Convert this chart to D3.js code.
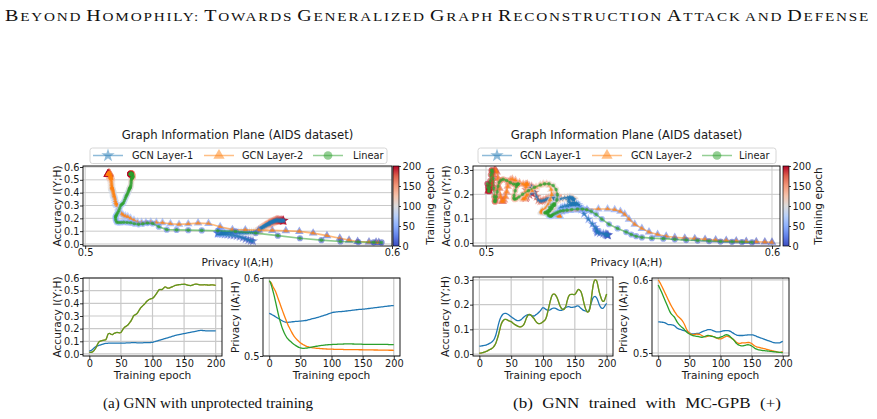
<!DOCTYPE html>
<html><head><meta charset="utf-8">
<script src="https://cdn.jsdelivr.net/npm/d3@7"></script>
<style>
body{margin:0;background:#fff;}
svg{display:block;}
</style></head><body>
<svg id="c" width="877" height="419"></svg>
<script>
// ---------------- DATA ----------------
const epochs = d3.range(0, 201, 2);
const seriesNames = ["GCN Layer-1", "GCN Layer-2", "Linear"];
const seriesColors = ["#1f77b4", "#ff7f0e", "#2ca02c"];
const cbTicks = [0, 50, 100, 150, 200];
const epochTicks = [0, 50, 100, 150, 200];

// (a) unprotected training: accuracy I(Y;H)
const accA_l1 = [
.022,.026,.032,.040,.049,.057,.062,.066,.069,.072,
.075,.078,.081,.083,.084,.085,.085,.086,.086,.086,
.086,.085,.085,.085,.085,.085,.086,.086,.086,.087,
.087,.088,.088,.089,.089,.089,.089,.089,.088,.088,
.088,.088,.088,.089,.089,.089,.089,.090,.090,.091,
.092,.095,.098,.101,.104,.107,.110,.113,.116,.119,
.122,.125,.128,.131,.134,.137,.140,.143,.146,.149,
.151,.153,.155,.157,.159,.161,.163,.165,.167,.169,
.171,.173,.175,.177,.179,.181,.183,.185,.186,.186,
.185,.184,.183,.183,.183,.183,.183,.182,.182,.182,
.182];
const accA_l2 = [
.012,.013,.015,.020,.030,.045,.065,.085,.098,.103,
.106,.108,.110,.112,.135,.160,.163,.157,.153,.158,
.165,.168,.170,.168,.167,.170,.185,.200,.212,.218,
.225,.235,.248,.262,.280,.300,.308,.313,.322,.338,
.355,.368,.378,.388,.398,.410,.420,.428,.433,.437,
.440,.448,.460,.475,.490,.505,.510,.508,.512,.522,
.530,.526,.520,.520,.524,.528,.532,.537,.541,.544,
.546,.547,.548,.549,.550,.551,.549,.546,.543,.541,
.540,.542,.545,.549,.551,.552,.550,.547,.545,.545,
.546,.547,.546,.545,.544,.544,.545,.546,.545,.543,
.542];
const accA_lin = accA_l2; // Layer-2 and Linear curves coincide in the accuracy panel

// (a) privacy I(A;H)
const privA_l1 = [
.5547,.5540,.5532,.5523,.5514,.5504,.5494,.5484,.5474,.5464,
.5455,.5446,.5439,.5434,.5432,.5432,.5433,.5435,.5437,.5439,
.5441,.5443,.5444,.5445,.5446,.5447,.5449,.5451,.5453,.5455,
.5458,.5462,.5466,.5470,.5475,.5479,.5483,.5487,.5491,.5495,
.5500,.5505,.5510,.5515,.5520,.5525,.5530,.5536,.5542,.5548,
.5554,.5558,.5561,.5563,.5565,.5567,.5568,.5569,.5570,.5571,
.5573,.5575,.5577,.5579,.5581,.5583,.5585,.5587,.5589,.5591,
.5593,.5595,.5597,.5598,.5599,.5600,.5601,.5603,.5605,.5607,
.5609,.5611,.5613,.5615,.5617,.5619,.5621,.5623,.5625,.5627,
.5629,.5631,.5633,.5635,.5637,.5639,.5641,.5643,.5645,.5646,
.5647];
const privA_l2 = [
.5957,.5948,.5925,.5888,.5860,.5830,.5788,.5743,.5698,.5654,
.5610,.5566,.5522,.5480,.5440,.5402,.5368,.5336,.5306,.5278,
.5252,.5232,.5214,.5198,.5184,.5171,.5159,.5148,.5139,.5131,
.5124,.5119,.5115,.5111,.5108,.5105,.5103,.5101,.5099,.5098,
.5097,.5095,.5094,.5093,.5092,.5091,.5090,.5089,.5088,.5088,
.5087,.5087,.5086,.5086,.5085,.5085,.5085,.5084,.5084,.5084,
.5083,.5083,.5083,.5083,.5082,.5082,.5082,.5082,.5081,.5081,
.5081,.5081,.5080,.5080,.5080,.5080,.5079,.5079,.5079,.5079,
.5078,.5078,.5078,.5078,.5077,.5077,.5077,.5077,.5076,.5076,
.5076,.5076,.5075,.5075,.5075,.5075,.5074,.5074,.5074,.5074,
.5073];
const privA_lin = [
.5966,.5940,.5890,.5832,.5770,.5700,.5628,.5556,.5490,.5432,
.5380,.5336,.5298,.5266,.5240,.5220,.5203,.5188,.5174,.5160,
.5148,.5137,.5126,.5117,.5109,.5103,.5100,.5099,.5099,.5100,
.5102,.5104,.5107,.5110,.5113,.5116,.5119,.5122,.5125,.5128,
.5131,.5133,.5135,.5137,.5139,.5141,.5143,.5144,.5145,.5146,
.5147,.5148,.5149,.5150,.5150,.5151,.5152,.5152,.5153,.5153,
.5154,.5155,.5155,.5155,.5155,.5155,.5155,.5154,.5154,.5153,
.5153,.5152,.5152,.5151,.5151,.5150,.5150,.5150,.5150,.5150,
.5150,.5150,.5150,.5150,.5149,.5149,.5149,.5149,.5149,.5149,
.5148,.5148,.5148,.5148,.5148,.5148,.5147,.5147,.5147,.5147,
.5147];

// (b) MC-GPB training: accuracy I(Y;H)
const accB_l1 = [
.032,.032,.033,.034,.035,.036,.038,.040,.043,.046,
.050,.055,.064,.078,.098,.120,.138,.150,.158,.163,
.165,.165,.162,.159,.155,.151,.147,.144,.140,.137,
.135,.135,.137,.140,.145,.150,.154,.157,.159,.159,
.158,.156,.154,.154,.157,.161,.165,.170,.176,.183,
.188,.186,.182,.179,.178,.178,.181,.184,.186,.186,
.185,.182,.179,.177,.177,.178,.182,.186,.189,.191,
.192,.191,.189,.189,.190,.191,.193,.195,.194,.189,
.184,.180,.177,.175,.173,.172,.176,.190,.208,.224,
.232,.233,.228,.218,.203,.192,.186,.185,.190,.198,
.205];
const accB_l2 = [
.003,.004,.005,.006,.008,.010,.012,.015,.018,.020,
.023,.028,.035,.045,.060,.077,.098,.118,.130,.137,
.140,.140,.138,.135,.133,.131,.127,.123,.119,.116,
.113,.111,.110,.111,.114,.120,.132,.146,.156,.161,
.160,.155,.149,.143,.135,.128,.124,.123,.124,.127,
.131,.135,.141,.155,.177,.199,.220,.236,.243,.243,
.238,.229,.215,.200,.189,.182,.180,.184,.195,.215,
.232,.240,.242,.242,.241,.242,.248,.257,.262,.258,
.250,.233,.210,.190,.177,.170,.172,.190,.225,.265,
.292,.300,.298,.280,.255,.237,.222,.213,.215,.228,
.243];
const accB_lin = accB_l2;

// (b) privacy I(A;H)
const privB_l1 = [
.5427,.5426,.5424,.5422,.5420,.5417,.5410,.5398,.5390,.5389,
.5388,.5386,.5382,.5372,.5358,.5343,.5333,.5327,.5322,.5316,
.5310,.5306,.5302,.5296,.5285,.5275,.5267,.5262,.5260,.5262,
.5266,.5267,.5267,.5270,.5280,.5290,.5297,.5302,.5308,.5315,
.5320,.5321,.5320,.5315,.5307,.5300,.5294,.5290,.5289,.5290,
.5292,.5297,.5302,.5305,.5306,.5307,.5305,.5302,.5297,.5285,
.5275,.5263,.5253,.5246,.5242,.5240,.5240,.5240,.5240,.5242,
.5244,.5246,.5248,.5249,.5249,.5249,.5247,.5243,.5236,.5228,
.5220,.5213,.5208,.5202,.5196,.5190,.5183,.5177,.5171,.5165,
.5160,.5153,.5146,.5141,.5139,.5138,.5138,.5139,.5143,.5152,
.5160];
const privB_l2 = [
.6000,.5975,.5945,.5910,.5875,.5840,.5803,.5766,.5730,.5695,
.5660,.5630,.5600,.5570,.5545,.5520,.5500,.5485,.5470,.5450,
.5425,.5393,.5353,.5318,.5292,.5275,.5262,.5253,.5250,.5252,
.5257,.5258,.5257,.5255,.5250,.5240,.5230,.5223,.5221,.5226,
.5232,.5236,.5238,.5234,.5226,.5220,.5211,.5203,.5197,.5194,
.5193,.5198,.5207,.5216,.5224,.5230,.5228,.5222,.5212,.5200,
.5190,.5175,.5160,.5145,.5135,.5130,.5132,.5137,.5140,.5140,
.5140,.5142,.5144,.5144,.5138,.5130,.5117,.5103,.5092,.5085,
.5080,.5076,.5072,.5068,.5063,.5059,.5055,.5051,.5047,.5042,
.5037,.5033,.5029,.5025,.5021,.5017,.5013,.5010,.5009,.5013,
.5020];
const privB_lin = [
.5930,.5895,.5860,.5820,.5780,.5740,.5700,.5660,.5620,.5580,
.5545,.5525,.5508,.5490,.5460,.5430,.5405,.5385,.5368,.5352,
.5338,.5320,.5300,.5283,.5270,.5260,.5252,.5245,.5238,.5233,
.5230,.5228,.5226,.5222,.5218,.5216,.5218,.5223,.5230,.5237,
.5240,.5237,.5232,.5228,.5224,.5220,.5214,.5208,.5206,.5210,
.5216,.5223,.5230,.5240,.5248,.5250,.5245,.5235,.5220,.5205,
.5190,.5170,.5148,.5128,.5115,.5106,.5100,.5097,.5098,.5102,
.5106,.5110,.5113,.5112,.5105,.5096,.5085,.5072,.5060,.5052,
.5046,.5042,.5039,.5036,.5034,.5032,.5030,.5029,.5027,.5025,
.5023,.5021,.5019,.5017,.5015,.5014,.5012,.5010,.5009,.5007,
.5005];

// text
const headerText = "Beyond Homophily: Towards Generalized Graph Reconstruction Attack and Defense";
const planeTitle = "Graph Information Plane (AIDS dataset)";
const captions = ["(a) GNN with unprotected training", "(b) GNN trained with MC-GPB (+)"];

// ---------------- DRAWING ----------------
const svg = d3.select("#c");
svg.append("rect").attr("width", 877).attr("height", 419).attr("fill", "#fff");
const FONT = "DejaVu Sans, sans-serif";
const SERIF = "Liberation Serif, DejaVu Serif, serif";
const TXT = "#1a1a1a";
const GRID = "#c9c9c9";
let clipId = 0;

const cwStops = ["rgb(59,76,192)","rgb(98,130,234)","rgb(141,176,254)","rgb(184,208,249)","rgb(221,220,220)","rgb(245,196,173)","rgb(244,154,123)","rgb(222,96,77)","rgb(180,4,38)"];
const coolwarm = d3.scaleLinear().domain(d3.range(9).map(i => i * 25)).range(cwStops).interpolate(d3.interpolateRgb);
const symbols = [d3.symbolStar, d3.symbolTriangle, d3.symbolCircle];

function styleAxis(ax, fs) {
  ax.attr("font-family", FONT).attr("font-size", fs || 9.8);
  ax.select(".domain").remove();
  ax.selectAll(".tick line").attr("stroke", "#000").attr("stroke-width", 0.8);
  ax.selectAll(".tick text").attr("fill", TXT);
}

function frame(g, x0, y0, x1, y1) {
  g.append("rect").attr("x", x0).attr("y", y0).attr("width", x1 - x0).attr("height", y1 - y0)
    .attr("fill", "none").attr("stroke", "#000").attr("stroke-width", 0.9);
}

function makeClip(x0, y0, x1, y1) {
  const id = "clip" + (clipId++);
  svg.append("clipPath").attr("id", id).append("rect").attr("x", x0).attr("y", y0).attr("width", x1 - x0).attr("height", y1 - y0);
  return "url(#" + id + ")";
}

function ylabel(txt, x, y, fs) {
  svg.append("text").attr("transform", `translate(${x},${y}) rotate(-90)`).attr("text-anchor", "middle")
    .attr("dy", "0.35em").attr("font-family", FONT).attr("font-size", fs).attr("fill", TXT).text(txt);
}
function xlabel(txt, x, y, fs) {
  svg.append("text").attr("x", x).attr("y", y).attr("text-anchor", "middle").attr("dy", "0.35em")
    .attr("font-family", FONT).attr("font-size", fs).attr("fill", TXT).text(txt);
}

function infoPlane(c) {
  const x = d3.scaleLinear().domain(c.xd).range([c.x0, c.x1]);
  const y = d3.scaleLinear().domain(c.yd).range([c.y1, c.y0]);
  const g = svg.append("g");
  g.selectAll(null).data(c.yticks).join("line")
    .attr("x1", c.x0).attr("x2", c.x1).attr("y1", d => y(d)).attr("y2", d => y(d))
    .attr("stroke", GRID).attr("stroke-width", 1);
  g.selectAll(null).data(c.xticks).join("line")
    .attr("y1", c.y0).attr("y2", c.y1).attr("x1", d => x(d)).attr("x2", d => x(d))
    .attr("stroke", GRID).attr("stroke-width", 1);
  const data = svg.append("g").attr("clip-path", makeClip(c.x0, c.y0, c.x1, c.y1));
  const line = d3.line().x(d => x(d.p)).y(d => y(d.a));
  c.series.forEach((s, i) => {
    const pts = epochs.map((e, k) => ({ e, p: s.priv[k], a: s.acc[k] }));
    data.append("g").selectAll("path").data(pts).join("path")
      .attr("transform", d => `translate(${x(d.p)},${y(d.a)})`)
      .attr("d", d3.symbol(symbols[i], i === 2 ? 30 : 32))
      .attr("fill", d => coolwarm(d.e)).attr("fill-opacity", 0.6);
    data.append("path").datum(pts).attr("d", line).attr("fill", "none")
      .attr("stroke", seriesColors[i]).attr("stroke-width", 1.6).attr("stroke-opacity", 0.55);
    data.append("g").selectAll("path").data(pts).join("path")
      .attr("transform", d => `translate(${x(d.p)},${y(d.a)})`)
      .attr("d", d3.symbol(symbols[i], 10))
      .attr("fill", seriesColors[i]).attr("fill-opacity", 0.65);
  });
  frame(svg.append("g"), c.x0, c.y0, c.x1, c.y1);
  const ax = svg.append("g").attr("transform", `translate(0,${c.y1})`)
    .call(d3.axisBottom(x).tickValues(c.xticks).tickFormat(d3.format(".1f")).tickSize(3).tickPadding(0.5));
  styleAxis(ax);
  const ay = svg.append("g").attr("transform", `translate(${c.x0},0)`)
    .call(d3.axisLeft(y).tickValues(c.yticks).tickFormat(d3.format(".1f")).tickSize(3).tickPadding(0.5));
  styleAxis(ay);
  svg.append("text").attr("x", (c.x0 + c.x1) / 2).attr("y", 135).attr("dy", "0.35em").attr("text-anchor", "middle")
    .attr("font-family", FONT).attr("font-size", 11.7).attr("fill", TXT).text(planeTitle);
  xlabel("Privacy I(A;H)", (c.x0 + c.x1) / 2, 262, 10.6);
  ylabel("Accuracy I(Y;H)", c.ylx, (c.y0 + c.y1) / 2, 10.6);
  const lg = svg.append("g");
  lg.append("rect").attr("x", c.lg.x0).attr("y", 148).attr("width", c.lg.x1 - c.lg.x0).attr("height", 15.5)
    .attr("rx", 2.5).attr("fill", "#fff").attr("fill-opacity", 0.8).attr("stroke", "#cccccc").attr("stroke-width", 0.8);
  seriesNames.forEach((n, i) => {
    const mx = c.lg.mx[i];
    lg.append("line").attr("x1", mx - 15).attr("x2", mx + 15).attr("y1", 155.5).attr("y2", 155.5)
      .attr("stroke", seriesColors[i]).attr("stroke-width", 1.5).attr("stroke-opacity", 0.5);
    lg.append("path").attr("transform", `translate(${mx},155.5)`).attr("d", d3.symbol(symbols[i], i === 2 ? 60 : 55))
      .attr("fill", seriesColors[i]).attr("fill-opacity", 0.5);
    lg.append("text").attr("x", c.lg.tx[i]).attr("y", 155.5).attr("dy", "0.35em")
      .attr("font-family", FONT).attr("font-size", 9.8).attr("fill", TXT).text(n);
  });
  const cy = d3.scaleLinear().domain([0, 200]).range([246, 166]);
  const gid = "cbgrad" + c.id;
  const grad = svg.append("defs").append("linearGradient").attr("id", gid)
    .attr("x1", 0).attr("y1", 1).attr("x2", 0).attr("y2", 0);
  d3.range(0, 201, 12.5).forEach(v => grad.append("stop").attr("offset", v / 200).attr("stop-color", coolwarm(v)));
  svg.append("rect").attr("x", c.cbx).attr("y", 166).attr("width", 6).attr("height", 80)
    .attr("fill", `url(#${gid})`).attr("stroke", "#000").attr("stroke-width", 0.7);
  const ac = svg.append("g").attr("transform", `translate(${c.cbx + 6},0)`)
    .call(d3.axisRight(cy).tickValues(cbTicks).tickFormat(d3.format("d")).tickSize(2).tickPadding(1.5));
  styleAxis(ac);
  ylabel("Training epoch", c.cblx, 206, 10.6);
}

infoPlane({
  id: "a", x0: 83, x1: 392, y0: 166, y1: 246, xd: [0.4993, 0.6], yd: [-0.0156, 0.6078],
  xticks: [0.5, 0.6], yticks: [0, 0.1, 0.2, 0.3, 0.4, 0.5, 0.6], ylx: 57,
  series: [{ acc: accA_l1, priv: privA_l1 }, { acc: accA_l2, priv: privA_l2 }, { acc: accA_lin, priv: privA_lin }],
  lg: { x0: 90, x1: 387, mx: [108, 219, 328], tx: [132, 242, 353] },
  cbx: 393, cblx: 430
});
infoPlane({
  id: "b", x0: 473, x1: 780, y0: 166, y1: 246, xd: [0.49545, 0.6028], yd: [-0.0123, 0.3164],
  xticks: [0.5, 0.6], yticks: [0, 0.1, 0.2, 0.3], ylx: 446,
  series: [{ acc: accB_l1, priv: privB_l1 }, { acc: accB_l2, priv: privB_l2 }, { acc: accB_lin, priv: privB_lin }],
  lg: { x0: 478, x1: 776, mx: [497, 607, 717], tx: [520, 631, 739] },
  cbx: 783, cblx: 818
});

function curvePanel(c) {
  const x = d3.scaleLinear().domain([-10, 210]).range([c.x0, c.x1]);
  const y = d3.scaleLinear().domain(c.yd).range([c.y1, c.y0]);
  const g = svg.append("g");
  g.selectAll(null).data(c.yticks).join("line")
    .attr("x1", c.x0).attr("x2", c.x1).attr("y1", d => y(d)).attr("y2", d => y(d))
    .attr("stroke", GRID).attr("stroke-width", 1.2);
  g.selectAll(null).data(epochTicks).join("line")
    .attr("y1", c.y0).attr("y2", c.y1).attr("x1", d => x(d)).attr("x2", d => x(d))
    .attr("stroke", GRID).attr("stroke-width", 1.2);
  const data = svg.append("g").attr("clip-path", makeClip(c.x0, c.y0, c.x1, c.y1));
  const line = d3.line().x((d, k) => x(epochs[k])).y(d => y(d)).curve(d3.curveMonotoneX);
  c.series.forEach((s, i) => {
    data.append("path").datum(s).attr("d", line).attr("fill", "none")
      .attr("stroke", seriesColors[i]).attr("stroke-width", 1.3)
      .attr("stroke-opacity", (c.overlay && i === 2) ? 0.8 : 1);
  });
  frame(svg.append("g"), c.x0, c.y0, c.x1, c.y1);
  const ax = svg.append("g").attr("transform", `translate(0,${c.y1})`)
    .call(d3.axisBottom(x).tickValues(epochTicks).tickFormat(d3.format("d")).tickSize(3).tickPadding(1.5));
  styleAxis(ax);
  const ay = svg.append("g").attr("transform", `translate(${c.x0},0)`)
    .call(d3.axisLeft(y).tickValues(c.yticks).tickFormat(d3.format(".1f")).tickSize(3).tickPadding(0.5));
  styleAxis(ay);
  xlabel("Training epoch", (c.x0 + c.x1) / 2, 375, 10.6);
  ylabel(c.ylab, c.ylx, (c.y0 + c.y1) / 2, 10.6);
}

curvePanel({ x0: 83, x1: 222, y0: 278, y1: 356, yd: [-0.016, 0.6], yticks: [0, 0.1, 0.2, 0.3, 0.4, 0.5, 0.6],
  series: [accA_l1, accA_l2, accA_lin], overlay: true, ylab: "Accuracy I(Y;H)", ylx: 57 });
curvePanel({ x0: 263, x1: 400, y0: 278, y1: 356, yd: [0.5, 0.6], yticks: [0.5, 0.6],
  series: [privA_l1, privA_l2, privA_lin], ylab: "Privacy I(A;H)", ylx: 235 });
curvePanel({ x0: 473, x1: 613, y0: 277, y1: 356, yd: [-0.008, 0.312], yticks: [0, 0.1, 0.2, 0.3],
  series: [accB_l1, accB_l2, accB_lin], overlay: true, ylab: "Accuracy I(Y;H)", ylx: 445 });
curvePanel({ x0: 652, x1: 789, y0: 278, y1: 356, yd: [0.4959, 0.6027], yticks: [0.5, 0.6],
  series: [privB_l1, privB_l2, privB_lin], ylab: "Privacy I(A;H)", ylx: 623 });

// header in small caps (large initial capitals, smaller capitals elsewhere), spread to the text width
function smallCapsText(str, x, y, big, small, target, sx, ls) {
  const t = svg.append("text").attr("transform", `translate(${x},${y}) scale(${sx},1)`)
    .attr("font-family", SERIF).attr("fill", "#111").style("letter-spacing", ls + "px");
  let runs = [];
  for (const ch of str) {
    const isBig = ch !== ch.toLowerCase();
    const last = runs[runs.length - 1];
    if (last && last.big === isBig) last.s += ch; else runs.push({ big: isBig, s: ch });
  }
  runs.forEach(r => t.append("tspan").attr("font-size", r.big ? big : small).text(r.s.toUpperCase()));
  const w = t.node().getComputedTextLength();
  const spaces = (str.match(/ /g) || []).length;
  const extra = (target / sx - w) / spaces;
  t.style("word-spacing", extra + "px");
  return t;
}
smallCapsText(headerText, 5, 20.5, 17, 12.9, 865, 1.18, 1.5);

// captions: glyphs widened by sx, inter-word space set so each line spans its measured extent
function caption(str, x, y, fs, target, sx) {
  const t = svg.append("text").attr("x", x).attr("y", y).attr("font-family", SERIF)
    .attr("font-size", fs).attr("fill", "#111").text(str);
  const w0 = t.node().getComputedTextLength();
  let s = sx;
  if (w0 * s > target) s = target / w0;
  t.attr("transform", `translate(${x},0) scale(${s},1) translate(${-x},0)`);
  const spaces = (str.match(/ /g) || []).length;
  const extra = (target / s - w0) / spaces;
  if (extra > 0) t.style("word-spacing", extra + "px");
  return t;
}
caption(captions[0], 103, 408, 15.2, 210, 1.0);
caption(captions[1], 513, 408, 15.2, 268, 1.12);
</script>
</body></html>
